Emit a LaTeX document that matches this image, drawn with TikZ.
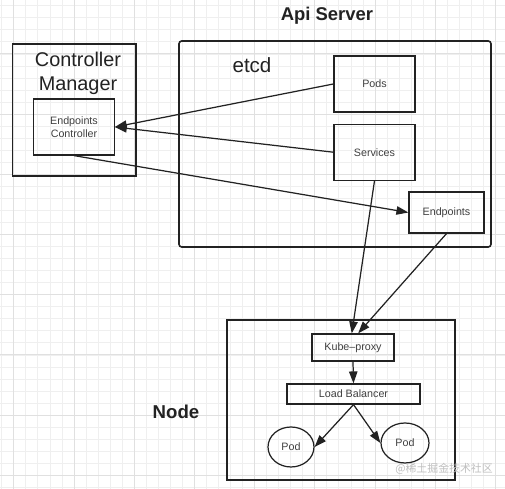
\documentclass[tikz,border=0pt]{standalone}
\usepackage{fontspec}
\setmainfont{Liberation Sans}
\newfontfamily\cjk{Noto Sans CJK SC}
\usepackage{tikz}
\usetikzlibrary{positioning,shapes,arrows.meta}
\usepackage{xcolor}
\definecolor{ink}{HTML}{222222}
\definecolor{labelgray}{HTML}{404040}
\definecolor{gridminor}{HTML}{EFEFEF}
\definecolor{gridmajor}{HTML}{E0E0E0}

\begin{document}
\begin{tikzpicture}[x=0.02cm, y=-0.02cm,
	box/.style = {draw=ink, line width=0.7pt, inner sep=0pt, text=labelgray, font=\fontsize{6.1}{7.5}\selectfont, align=center},
	pod/.style = {draw=ink, line width=0.7pt, ellipse, inner sep=0pt, text=labelgray, font=\fontsize{6.1}{7.5}\selectfont},
	big/.style = {text=ink, font=\fontsize{11.3}{13.6}\selectfont, align=center},
	arr/.style = {draw=ink, line width=0.7pt, -{Triangle[length=6.8pt,width=4.8pt]}}]
	\useasboundingbox (0,0) rectangle (505,489);
	\fill[white] (0,0) rectangle (505,489);
	% grid
	\foreach \i in {0,...,41}
		\draw[gridminor, line width=0.4pt] ({1.7+12.04*\i},0) -- ({1.7+12.04*\i},489);
	\foreach \i in {0,...,40}
		\draw[gridminor, line width=0.4pt] (0,{5.7+12.04*\i}) -- (505,{5.7+12.04*\i});
	\foreach \i in {1,6,...,41}
		\draw[gridmajor, line width=0.5pt] ({1.7+12.04*\i},0) -- ({1.7+12.04*\i},489);
	\foreach \i in {4,9,...,40}
		\draw[gridmajor, line width=0.5pt] (0,{5.7+12.04*\i}) -- (505,{5.7+12.04*\i});

	% controller manager
	\node[box, line width=0.9pt, minimum width=2.47cm, minimum height=2.64cm] (cm) at (74.4,110) {};
	\node[big] (cmlabel) at (78,73) {Controller\\Manager};
	\node[box, minimum width=1.61cm, minimum height=1.12cm] (ec) at (74,127) {Endpoints\\Controller};

	% api server
	\node[box, line width=0.9pt, rounded corners=1.5pt, minimum width=6.24cm, minimum height=4.12cm] (api) at (335,144) {};
	\node[big, font=\bfseries\fontsize{10.5}{12}\selectfont] (apilabel) at (327,16) {Api Server};
	\node[big, font=\fontsize{11.7}{13}\selectfont] (etcd) at (252,65) {etcd};
	\node[box, minimum width=1.62cm, minimum height=1.12cm] (pods) at (374.5,84) {Pods};
	\node[box, minimum width=1.62cm, minimum height=1.12cm] (svc) [below=0.22cm of pods] {Services};
	\node[box, minimum width=1.5cm, minimum height=0.82cm] (ep) at (446.5,212.5) {Endpoints};

	% node
	\node[box, line width=0.9pt, minimum width=4.56cm, minimum height=3.2cm] (nodebox) at (341,400) {};
	\node[big, font=\bfseries\fontsize{10.6}{12}\selectfont] (nodelabel) at (176,412) {Node};
	\node[box, minimum width=1.64cm, minimum height=0.54cm] (kp) at (353,347.5) {Kube--proxy};
	\node[box, minimum width=2.66cm, minimum height=0.4cm] (lb) at (353.5,394) {Load Balancer};
	\node[pod, minimum width=0.92cm, minimum height=0.8cm] (poda) at (291,447) {Pod};
	\node[pod, minimum width=0.96cm, minimum height=0.8cm] (podb) at (405,443) {Pod};
	\node[text=black!25, font=\cjk\fontsize{6.2}{7}\selectfont] (mark) at (444,469) {@稀土掘金技术社区};

	\draw[arr] (pods.west) -- (ec.east);
	\draw[arr] (svc.west) -- (ec.east);
	\draw[arr] (ec.south) -- (ep.west);
	\draw[arr] (svc.south) -- (kp.95);
	\draw[arr] (ep.south) -- (kp.70);
	\draw[arr] (kp.south) -- (lb.north);
	\draw[arr] (lb.south) -- (poda.east);
	\draw[arr] (lb.south) -- (podb.west);
\end{tikzpicture}
\end{document}
